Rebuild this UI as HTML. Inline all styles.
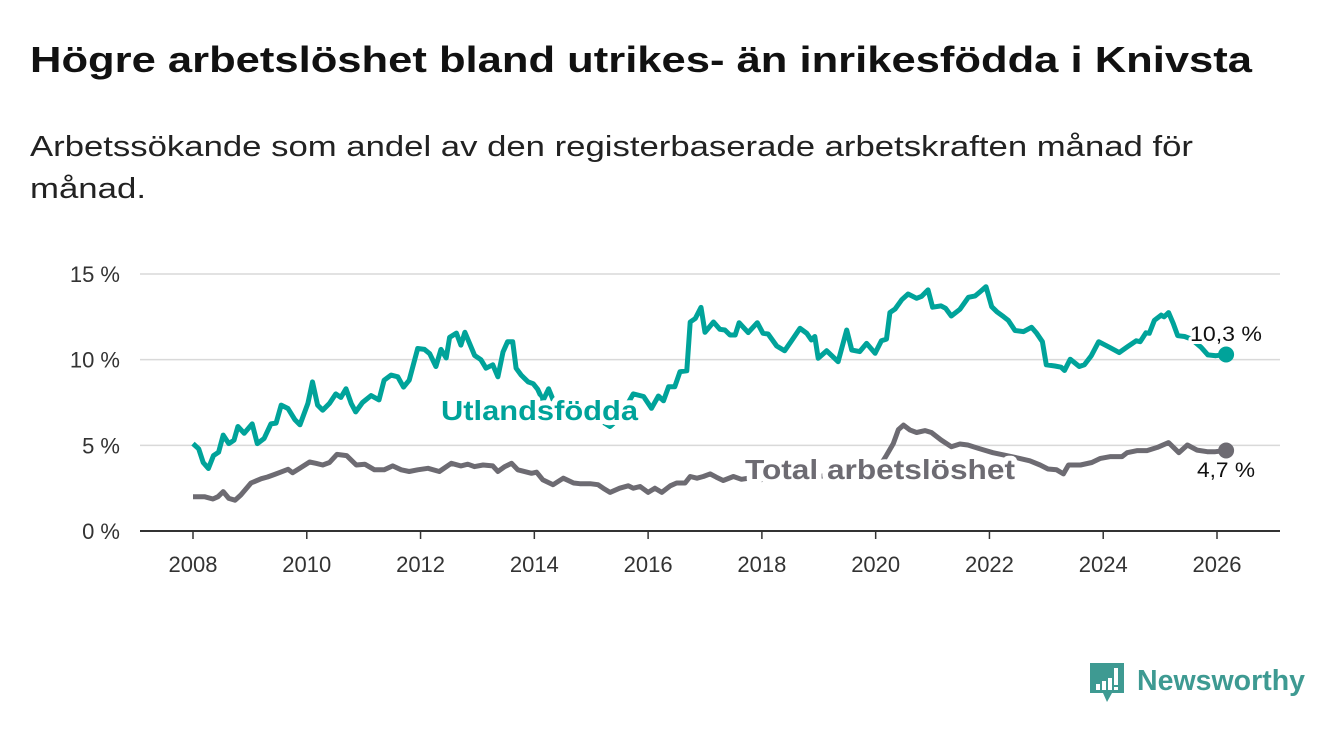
<!DOCTYPE html>
<html><head><meta charset="utf-8">
<style>
body{margin:0;background:#fff;width:1340px;height:734px;overflow:hidden;font-family:"Liberation Sans",sans-serif;}
svg text{font-family:"Liberation Sans",sans-serif;}
</style></head>
<body>
<svg width="1340" height="734">
<text x="30" y="72" font-size="36" font-weight="bold" fill="#111" textLength="1222" lengthAdjust="spacingAndGlyphs">Högre arbetslöshet bland utrikes- än inrikesfödda i Knivsta</text>
<text x="30" y="156" font-size="29" fill="#222" textLength="1163" lengthAdjust="spacingAndGlyphs">Arbetssökande som andel av den registerbaserade arbetskraften månad för</text>
<text x="30" y="198" font-size="29" fill="#222" textLength="116" lengthAdjust="spacingAndGlyphs">månad.</text>
<g id="grid"></g>
<g id="xaxis"></g>
<g id="series"></g>
<g id="labels"></g>
<g>
<path d="M1090 663 h34 v30 h-12 l-5 9 l-4 -9 h-13 z" fill="#3e9a92"/>
<rect x="1096" y="684" width="4" height="6" fill="#fff"/>
<rect x="1102" y="681" width="4" height="9" fill="#fff"/>
<rect x="1108" y="678" width="4" height="12" fill="#fff"/>
<rect x="1114" y="668" width="4" height="17" fill="#fff"/>
<rect x="1114" y="687" width="4" height="3" fill="#fff"/>
<text x="1137" y="690" font-size="29" font-weight="bold" fill="#3e9a92" textLength="168" lengthAdjust="spacingAndGlyphs">Newsworthy</text>
</g>
</svg>
<script>
const yTicks=[0,5,10,15];
const xTicks=[2008,2010,2012,2014,2016,2018,2020,2022,2024,2026];
const utlYears=[2008.0,2008.1,2008.18,2008.27,2008.36,2008.45,2008.53,2008.63,2008.72,2008.79,2008.9,2009.04,2009.13,2009.25,2009.37,2009.46,2009.55,2009.67,2009.79,2009.88,2010.02,2010.1,2010.19,2010.28,2010.4,2010.51,2010.6,2010.69,2010.78,2010.86,2010.98,2011.13,2011.27,2011.36,2011.48,2011.6,2011.7,2011.8,2011.95,2012.07,2012.16,2012.27,2012.36,2012.45,2012.51,2012.63,2012.71,2012.78,2012.95,2013.06,2013.15,2013.27,2013.36,2013.45,2013.53,2013.62,2013.68,2013.77,2013.89,2013.98,2014.06,2014.15,2014.25,2014.35,2014.5,2014.8,2015.0,2015.33,2015.5,2015.74,2015.92,2016.06,2016.18,2016.27,2016.36,2016.47,2016.56,2016.68,2016.74,2016.83,2016.93,2017.0,2017.15,2017.26,2017.35,2017.44,2017.53,2017.6,2017.76,2017.92,2018.02,2018.11,2018.26,2018.4,2018.52,2018.67,2018.79,2018.87,2018.93,2018.99,2019.14,2019.34,2019.49,2019.58,2019.72,2019.84,2019.99,2020.1,2020.19,2020.25,2020.34,2020.46,2020.57,2020.72,2020.81,2020.92,2021.0,2021.15,2021.23,2021.33,2021.48,2021.63,2021.75,2021.84,2021.94,2022.04,2022.13,2022.25,2022.33,2022.45,2022.6,2022.74,2022.83,2022.93,2023.0,2023.15,2023.26,2023.32,2023.42,2023.58,2023.67,2023.79,2023.92,2024.11,2024.28,2024.43,2024.58,2024.65,2024.75,2024.81,2024.9,2025.02,2025.07,2025.15,2025.23,2025.31,2025.43,2025.55,2025.72,2025.84,2025.98,2026.16];
const utlValues=[5.1,4.8,4.0,3.65,4.4,4.6,5.6,5.1,5.3,6.1,5.7,6.25,5.1,5.4,6.25,6.3,7.35,7.15,6.5,6.2,7.45,8.7,7.35,7.05,7.45,8.0,7.8,8.3,7.45,6.95,7.5,7.9,7.65,8.8,9.1,9.0,8.4,8.8,10.65,10.6,10.35,9.6,10.6,10.1,11.3,11.55,10.85,11.6,10.25,10.0,9.5,9.7,9.0,10.45,11.05,11.05,9.5,9.1,8.7,8.6,8.27,7.6,8.3,7.5,7.3,7.0,6.8,6.1,6.6,8.0,7.85,7.16,7.88,7.6,8.42,8.42,9.3,9.35,12.2,12.4,13.05,11.6,12.2,11.77,11.73,11.44,11.44,12.16,11.58,12.16,11.54,11.5,10.8,10.52,11.1,11.83,11.54,11.15,11.35,10.08,10.52,9.88,11.73,10.56,10.47,10.95,10.37,11.1,11.2,12.75,12.95,13.5,13.83,13.58,13.7,14.07,13.06,13.14,13.0,12.55,12.94,13.64,13.72,13.97,14.26,13.09,12.8,12.5,12.3,11.7,11.64,11.89,11.54,11.05,9.7,9.63,9.56,9.37,10.03,9.6,9.7,10.23,11.05,10.72,10.41,10.76,11.1,11.05,11.57,11.54,12.3,12.6,12.5,12.75,12.12,11.4,11.35,11.2,10.72,10.28,10.23,10.3];
const totYears=[2008.0,2008.2,2008.35,2008.44,2008.53,2008.63,2008.74,2008.84,2009.02,2009.2,2009.31,2009.43,2009.55,2009.67,2009.75,2009.87,2010.05,2010.16,2010.28,2010.4,2010.53,2010.7,2010.87,2011.02,2011.19,2011.36,2011.51,2011.66,2011.8,2011.95,2012.13,2012.33,2012.54,2012.71,2012.83,2012.95,2013.1,2013.27,2013.36,2013.48,2013.6,2013.71,2013.95,2014.04,2014.15,2014.33,2014.51,2014.69,2014.8,2014.98,2015.12,2015.21,2015.33,2015.5,2015.65,2015.74,2015.86,2016.0,2016.12,2016.24,2016.39,2016.5,2016.65,2016.74,2016.86,2016.97,2017.09,2017.2,2017.32,2017.5,2017.64,2017.8,2018.0,2018.3,2018.6,2019.0,2019.5,2020.0,2020.19,2020.31,2020.4,2020.49,2020.6,2020.72,2020.87,2020.98,2021.15,2021.33,2021.48,2021.62,2021.8,2021.91,2022.06,2022.3,2022.53,2022.71,2022.89,2023.03,2023.18,2023.3,2023.39,2023.6,2023.8,2023.95,2024.13,2024.33,2024.42,2024.6,2024.77,2024.95,2025.15,2025.33,2025.48,2025.65,2025.83,2025.97,2026.16];
const totValues=[2.0,2.0,1.87,2.0,2.3,1.9,1.8,2.1,2.8,3.05,3.15,3.3,3.45,3.6,3.4,3.65,4.03,3.95,3.85,4.0,4.47,4.4,3.85,3.9,3.57,3.57,3.8,3.57,3.47,3.57,3.66,3.47,3.95,3.8,3.9,3.76,3.85,3.8,3.47,3.76,3.95,3.57,3.37,3.43,2.98,2.7,3.08,2.8,2.76,2.76,2.7,2.5,2.25,2.5,2.64,2.5,2.6,2.25,2.5,2.25,2.64,2.8,2.8,3.18,3.08,3.18,3.33,3.14,2.95,3.18,3.02,3.1,3.0,3.2,3.3,3.2,3.3,3.4,4.42,5.1,5.92,6.18,5.9,5.75,5.86,5.75,5.31,4.92,5.08,5.02,4.83,4.72,4.57,4.4,4.24,4.1,3.85,3.62,3.57,3.33,3.85,3.85,4.0,4.24,4.34,4.34,4.57,4.69,4.69,4.88,5.16,4.57,5.02,4.72,4.63,4.63,4.7];
const NS="http://www.w3.org/2000/svg";
const xs=y=>193+(y-2008)*(1024/18);
const ys=v=>531-v*(257/15);
function mk(t,a,p){const e=document.createElementNS(NS,t);for(const k in a)e.setAttribute(k,a[k]);p.appendChild(e);return e;}
const grid=document.getElementById('grid');
yTicks.forEach(v=>{
  const l=mk('line',{x1:140,x2:1280,y1:ys(v),y2:ys(v),stroke:v===0?'#333':'#d9d9d9','stroke-width':v===0?2:1.5},grid);
  
  
  const t=mk('text',{x:120,y:ys(v)+8,'text-anchor':'end','font-size':22,fill:'#333'},grid);
  t.textContent=v+' %';
  
  
});
const xa=document.getElementById('xaxis');
xTicks.forEach(y=>{
  const l=mk('line',{x1:xs(y),x2:xs(y),y1:531,y2:539,stroke:'#333','stroke-width':1.5},xa);
  
  
  const t=mk('text',{x:xs(y),y:572,'text-anchor':'middle','font-size':22,fill:'#333'},xa);
  t.textContent=y;
  
  
});
const sg=document.getElementById('series');
function line(Y,V,c,name){
  const d=Y.map((y,i)=>(i?'L':'M')+xs(y).toFixed(1)+' '+ys(V[i]).toFixed(1)).join(' ');
  const p=mk('path',{d:d,fill:'none',stroke:c,'stroke-width':5,'stroke-linejoin':'round'},sg);
  
  
  const n=Y.length-1;
  const c2=mk('circle',{cx:xs(Y[n]),cy:ys(V[n]),r:8,fill:c},sg);
  
  
}
line(totYears,totValues,'#6d6b72','total-line');
line(utlYears,utlValues,'#00a39a','utlandsfodda-line');
const lg=document.getElementById('labels');
function lab(x,y,txt,sz,w,c,name,anchor,len,sw){
  const t=mk('text',{x:x,y:y,'font-size':sz,'font-weight':w,fill:c,stroke:'#fff','stroke-width':sw,'paint-order':'stroke','stroke-linejoin':'round','text-anchor':anchor||'start',textLength:len,lengthAdjust:'spacingAndGlyphs'},lg);
  t.textContent=txt;
  
  
}
lab(441,420,'Utlandsfödda',28,'bold','#00a39a','utlandsfodda-label','start',197,10);
lab(745,479,'Total arbetslöshet',28,'bold','#6d6b72','total-label','start',270,10);
const un=utlValues.length-1, tn=totValues.length-1;
lab(1226,341,utlValues[un].toFixed(1).replace('.',',')+' %',21,'normal','#111','utlandsfodda-end-value','middle',72,6);
lab(1226,477,totValues[tn].toFixed(1).replace('.',',')+' %',21,'normal','#111','total-end-value','middle',58,6);
</script>
</body></html>
